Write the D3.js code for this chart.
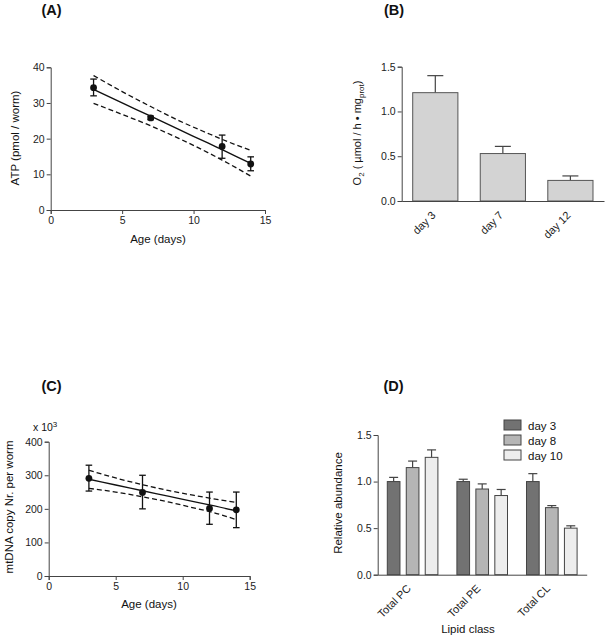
<!DOCTYPE html>
<html><head><meta charset="utf-8">
<script src="https://cdn.jsdelivr.net/npm/d3@7"></script>
<style>
body{margin:0;background:#fff}
svg{font-family:Arial,"Liberation Sans",sans-serif}
</style></head><body>
<svg id="c" width="607" height="639"></svg>
<script>
// ---- Panel A: ATP ----
const atpDays = [3, 7, 12, 14];
const atpMean = [34.3, 25.8, 17.8, 12.9];
const atpLow  = [32.0, 25.3, 14.5, 11.0];
const atpHigh = [36.7, 26.3, 21.0, 14.9];
const atpFitX = [3, 5, 7, 9, 11, 12, 14];
const atpFit  = [33.8, 30.0, 26.3, 22.5, 18.8, 16.9, 13.1];
const atpUpper= [37.7, 33.2, 29.0, 25.0, 21.5, 19.8, 16.7];
const atpLower= [29.9, 26.8, 23.6, 20.0, 16.1, 14.0, 9.5];
const ageTicks = [0, 5, 10, 15];
const atpTicks = [0, 10, 20, 30, 40];

// ---- Panel B: O2 consumption ----
const o2Cats = ["day 3", "day 7", "day 12"];
const o2Mean = [1.21, 0.53, 0.23];
const o2Err  = [0.19, 0.08, 0.05];
const o2Ticks = [0, 0.5, 1.0, 1.5];

// ---- Panel C: mtDNA ----
const mtDays = [3, 7, 12, 14];
const mtMean = [291, 249, 201, 197];
const mtLow  = [253, 200, 154, 144];
const mtHigh = [330, 300, 250, 250];
const mtFitX = [3, 5, 7, 9, 11, 12, 14];
const mtFit  = [288, 271, 254, 237, 220, 212, 194];
const mtUpper= [315, 292, 272, 254, 239, 232, 219];
const mtLower= [261, 250, 236, 220, 201, 192, 168];
const mtTicks = [0, 100, 200, 300, 400];

// ---- Panel D: lipids ----
const lipidCats = ["Total PC", "Total PE", "Total CL"];
const lipidSeries = ["day 3", "day 8", "day 10"];
const lipidDay3  = [1.00, 1.00, 1.00];
const lipidDay8  = [1.15, 0.92, 0.72];
const lipidDay10 = [1.26, 0.85, 0.50];
const lipidErr3  = [0.045, 0.025, 0.085];
const lipidErr8  = [0.07, 0.055, 0.022];
const lipidErr10 = [0.08, 0.065, 0.025];
const lipidColors = ["#727272", "#b5b5b5", "#ededed"];
const relTicks = [0, 0.5, 1.0, 1.5];

const svg = d3.select("#c");
const AX = "#444";
const FT = 10.5;

function styleAxis(g){
  g.select(".domain").attr("stroke", AX).attr("stroke-width", 1);
  g.selectAll(".tick line").attr("stroke", AX);
  g.selectAll(".tick text").attr("fill", "#222").style("font-size", FT + "px");
}
function label(x, y, txt, opts={}){
  const t = svg.append("text").attr("x", x).attr("y", y).text(txt)
    .attr("fill", "#111").style("font-size", (opts.size||11.5) + "px")
    .attr("text-anchor", opts.anchor||"middle");
  if (opts.bold) t.style("font-weight", "bold");
  if (opts.rot) t.attr("transform", `rotate(-90,${x},${y})`);
  return t;
}
function rotLabels(g, dx, dy){
  g.selectAll(".tick text").attr("x",0).attr("y",0).attr("dy","0").attr("dx","0")
    .attr("text-anchor","end").attr("transform",`translate(${dx},${dy}) rotate(-45)`).style("font-size","11px");
}

// ===== Panel A =====
{
  const x = d3.scaleLinear().domain([0, 15]).range([50.7, 265]);
  const y = d3.scaleLinear().domain([0, 40]).range([210, 67.3]);
  svg.append("g").attr("transform", "translate(0,210)")
    .call(d3.axisBottom(x).tickValues(ageTicks).tickSize(4).tickPadding(3)).call(styleAxis);
  svg.append("g").attr("transform", "translate(50.7,0)")
    .call(d3.axisLeft(y).tickValues(atpTicks).tickSize(4).tickPadding(2)).call(styleAxis);
  const line = d3.line().x(d => x(d[0])).y(d => y(d[1])).curve(d3.curveMonotoneX);
  svg.append("path").attr("d", line(atpFitX.map((v,i)=>[v, atpFit[i]])))
    .attr("fill","none").attr("stroke","#111").attr("stroke-width",1.4);
  [atpUpper, atpLower].forEach(arr => svg.append("path")
    .attr("d", line(atpFitX.map((v,i)=>[v, arr[i]])))
    .attr("fill","none").attr("stroke","#111").attr("stroke-width",1.3).attr("stroke-dasharray","5,3"));
  atpDays.forEach((d,i) => {
    const cx = x(d);
    svg.append("line").attr("x1",cx).attr("x2",cx).attr("y1",y(atpLow[i])).attr("y2",y(atpHigh[i])).attr("stroke","#111").attr("stroke-width",1.3);
    [atpLow[i], atpHigh[i]].forEach(v => svg.append("line").attr("x1",cx-3.3).attr("x2",cx+3.3).attr("y1",y(v)).attr("y2",y(v)).attr("stroke","#111").attr("stroke-width",1.3));
    svg.append("circle").attr("cx",cx).attr("cy",y(atpMean[i])).attr("r",3.4).attr("fill","#111");
  });
  label(158, 243, "Age (days)");
  label(18.5, 138, "ATP (pmol / worm)", {rot:true});
  label(51.5, 15, "(A)", {size:14.5, bold:true});
}

// ===== Panel B =====
{
  const x = d3.scaleBand().domain(o2Cats).range([401.7, 604]).paddingInner(0.331).paddingOuter(0.163);
  const y = d3.scaleLinear().domain([0, 1.5]).range([201, 66.7]);
  o2Cats.forEach((c,i) => {
    const cx = x(c) + x.bandwidth()/2;
    svg.append("line").attr("x1",cx).attr("x2",cx).attr("y1",y(o2Mean[i])).attr("y2",y(o2Mean[i]+o2Err[i])).attr("stroke","#444").attr("stroke-width",1.2);
    svg.append("line").attr("x1",cx-8).attr("x2",cx+8).attr("y1",y(o2Mean[i]+o2Err[i])).attr("y2",y(o2Mean[i]+o2Err[i])).attr("stroke","#444").attr("stroke-width",1.2);
    svg.append("rect").attr("x",x(c)).attr("width",x.bandwidth()).attr("y",y(o2Mean[i])).attr("height",y(0)-y(o2Mean[i]))
      .attr("fill","#d3d3d3").attr("stroke","#555").attr("stroke-width",1);
  });
  const xa = svg.append("g").attr("transform","translate(0,201)").call(d3.axisBottom(x).tickSize(0).tickPadding(6)).call(styleAxis);
  rotLabels(xa, 1, 15);
  svg.append("g").attr("transform","translate(401.7,0)")
    .call(d3.axisLeft(y).tickValues(o2Ticks).tickFormat(d3.format(".1f")).tickSize(4).tickPadding(2)).call(styleAxis);
  const t = svg.append("text").attr("transform","translate(361,133) rotate(-90)").attr("text-anchor","middle")
    .attr("fill","#111").style("font-size","11px");
  t.append("tspan").text("O");
  t.append("tspan").text("2").attr("dy","3").style("font-size","8px");
  t.append("tspan").text(" ( µmol / h • mg").attr("dy","-3");
  t.append("tspan").text("prot").attr("dy","3").style("font-size","8px");
  t.append("tspan").text(")").attr("dy","-3");
  label(394, 15, "(B)", {size:14.5, bold:true});
}

// ===== Panel C =====
{
  const x = d3.scaleLinear().domain([0, 15]).range([48.7, 249.7]);
  const y = d3.scaleLinear().domain([0, 400]).range([576, 441.7]);
  svg.append("g").attr("transform","translate(0,576)")
    .call(d3.axisBottom(x).tickValues(ageTicks).tickSize(4).tickPadding(3)).call(styleAxis);
  svg.append("g").attr("transform","translate(48.7,0)")
    .call(d3.axisLeft(y).tickValues(mtTicks).tickSize(4).tickPadding(2)).call(styleAxis);
  const line = d3.line().x(d => x(d[0])).y(d => y(d[1])).curve(d3.curveMonotoneX);
  svg.append("path").attr("d", line(mtFitX.map((v,i)=>[v, mtFit[i]])))
    .attr("fill","none").attr("stroke","#111").attr("stroke-width",1.4);
  [mtUpper, mtLower].forEach(arr => svg.append("path")
    .attr("d", line(mtFitX.map((v,i)=>[v, arr[i]])))
    .attr("fill","none").attr("stroke","#111").attr("stroke-width",1.3).attr("stroke-dasharray","5,3"));
  mtDays.forEach((d,i) => {
    const cx = x(d);
    svg.append("line").attr("x1",cx).attr("x2",cx).attr("y1",y(mtLow[i])).attr("y2",y(mtHigh[i])).attr("stroke","#111").attr("stroke-width",1.3);
    [mtLow[i], mtHigh[i]].forEach(v => svg.append("line").attr("x1",cx-3.3).attr("x2",cx+3.3).attr("y1",y(v)).attr("y2",y(v)).attr("stroke","#111").attr("stroke-width",1.3));
    svg.append("circle").attr("cx",cx).attr("cy",y(mtMean[i])).attr("r",3.4).attr("fill","#111");
  });
  label(149, 608, "Age (days)");
  label(12.5, 507, "mtDNA copy Nr. per worm", {rot:true});
  const e = svg.append("text").attr("x",33).attr("y",431).attr("fill","#111").style("font-size","10.5px");
  e.append("tspan").text("x 10");
  e.append("tspan").text("3").attr("dy","-4").style("font-size","8px");
  label(51.5, 391, "(C)", {size:14.5, bold:true});
}

// ===== Panel D =====
{
  const x0 = d3.scaleBand().domain(lipidCats).range([377.7, 586.7]).paddingInner(0.273).paddingOuter(0.138);
  const x1 = d3.scaleBand().domain(lipidSeries).range([0, x0.bandwidth()]).paddingInner(0.332);
  const y = d3.scaleLinear().domain([0, 1.5]).range([574.7, 435]);
  const vals = [lipidDay3, lipidDay8, lipidDay10];
  const errs = [lipidErr3, lipidErr8, lipidErr10];
  lipidCats.forEach((c,i) => {
    lipidSeries.forEach((s,j) => {
      const bx = x0(c) + x1(s), cx = bx + x1.bandwidth()/2;
      const v = vals[j][i], e = errs[j][i];
      svg.append("line").attr("x1",cx).attr("x2",cx).attr("y1",y(v)).attr("y2",y(v+e)).attr("stroke","#444").attr("stroke-width",1.2);
      svg.append("line").attr("x1",cx-4.5).attr("x2",cx+4.5).attr("y1",y(v+e)).attr("y2",y(v+e)).attr("stroke","#444").attr("stroke-width",1.2);
      svg.append("rect").attr("x",bx).attr("width",x1.bandwidth()).attr("y",y(v)).attr("height",y(0)-y(v))
        .attr("fill",lipidColors[j]).attr("stroke","#444").attr("stroke-width",1);
    });
  });
  const xa = svg.append("g").attr("transform","translate(0,574.7)").call(d3.axisBottom(x0).tickSize(0).tickPadding(6)).call(styleAxis);
  rotLabels(xa, -1, 14.5);
  svg.append("g").attr("transform","translate(377.7,0)")
    .call(d3.axisLeft(y).tickValues(relTicks).tickFormat(d3.format(".1f")).tickSize(4).tickPadding(2)).call(styleAxis);
  const leg = d3.scaleBand().domain(lipidSeries).range([418, 463]);
  lipidSeries.forEach((s,j) => {
    svg.append("rect").attr("x",504).attr("y",leg(s)+2).attr("width",17).attr("height",10)
      .attr("fill",lipidColors[j]).attr("stroke","#444").attr("stroke-width",1);
    svg.append("text").attr("x",528).attr("y",leg(s)+11.5).text(s).attr("fill","#111").style("font-size","11.5px");
  });
  label(468, 633, "Lipid class");
  label(342, 503, "Relative abundance", {rot:true});
  label(393.5, 391, "(D)", {size:14.5, bold:true});
}
</script></body></html>
